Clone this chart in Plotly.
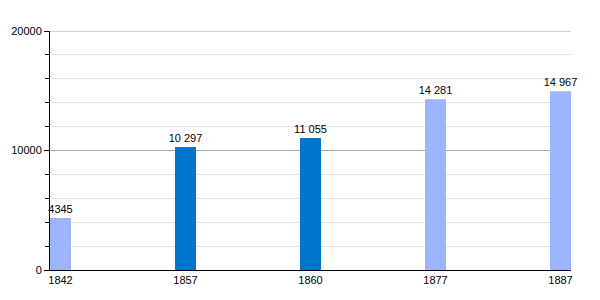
import plotly.graph_objects as go

years = ["1842", "1857", "1860", "1877", "1887"]
population = [4345, 10297, 11055, 14281, 14967]
bar_colors = ["#9db4ff", "#0077cc", "#0077cc", "#9db4ff", "#9db4ff"]
y_ticks = [0, 10000, 20000]


def fmt(v):
    return f"{v:,}".replace(",", " ") if v >= 10000 else str(v)


labels = [fmt(v) for v in population]
xpos = list(range(len(years)))

fig = go.Figure(
    go.Bar(
        x=xpos,
        y=population,
        marker=dict(color=bar_colors, line=dict(width=0)),
        width=0.168,
        text=labels,
        textposition="outside",
        constraintext="none",
        textfont=dict(size=11, color="black", family="Liberation Sans, Arial"),
        cliponaxis=False,
    )
)

fig.update_layout(
    width=600,
    height=300,
    margin=dict(l=50, r=29, t=31, b=30),
    plot_bgcolor="white",
    paper_bgcolor="white",
    showlegend=False,
    font=dict(family="Liberation Sans, Arial", size=11, color="black"),
    xaxis=dict(
        range=[-0.084, 4.084],
        tickmode="array",
        tickvals=xpos,
        ticktext=years,
        showgrid=False,
        zeroline=False,
        showline=True,
        linecolor="black",
        linewidth=1,
        ticks="",
        tickfont=dict(size=11),
    ),
    yaxis=dict(
        range=[0, 20000],
        tickmode="array",
        tickvals=y_ticks,
        ticktext=[str(v) for v in y_ticks],
        showgrid=True,
        gridcolor="#a8a8a8",
        gridwidth=1,
        zeroline=False,
        showline=True,
        linecolor="black",
        linewidth=1,
        ticks="outside",
        ticklen=5,
        tickcolor="black",
        tickfont=dict(size=11),
        minor=dict(
            tickmode="linear",
            tick0=0,
            dtick=2000,
            showgrid=True,
            gridcolor="#e3e3e3",
            gridwidth=1,
            ticks="outside",
            ticklen=4,
            tickcolor="black",
        ),
    ),
    shapes=[
        dict(
            type="line",
            xref="paper",
            yref="y",
            x0=0,
            x1=1,
            y0=y_ticks[-1],
            y1=y_ticks[-1],
            line=dict(color="#a8a8a8", width=1),
            layer="below",
        )
    ],
)

fig.write_html("out.html")
